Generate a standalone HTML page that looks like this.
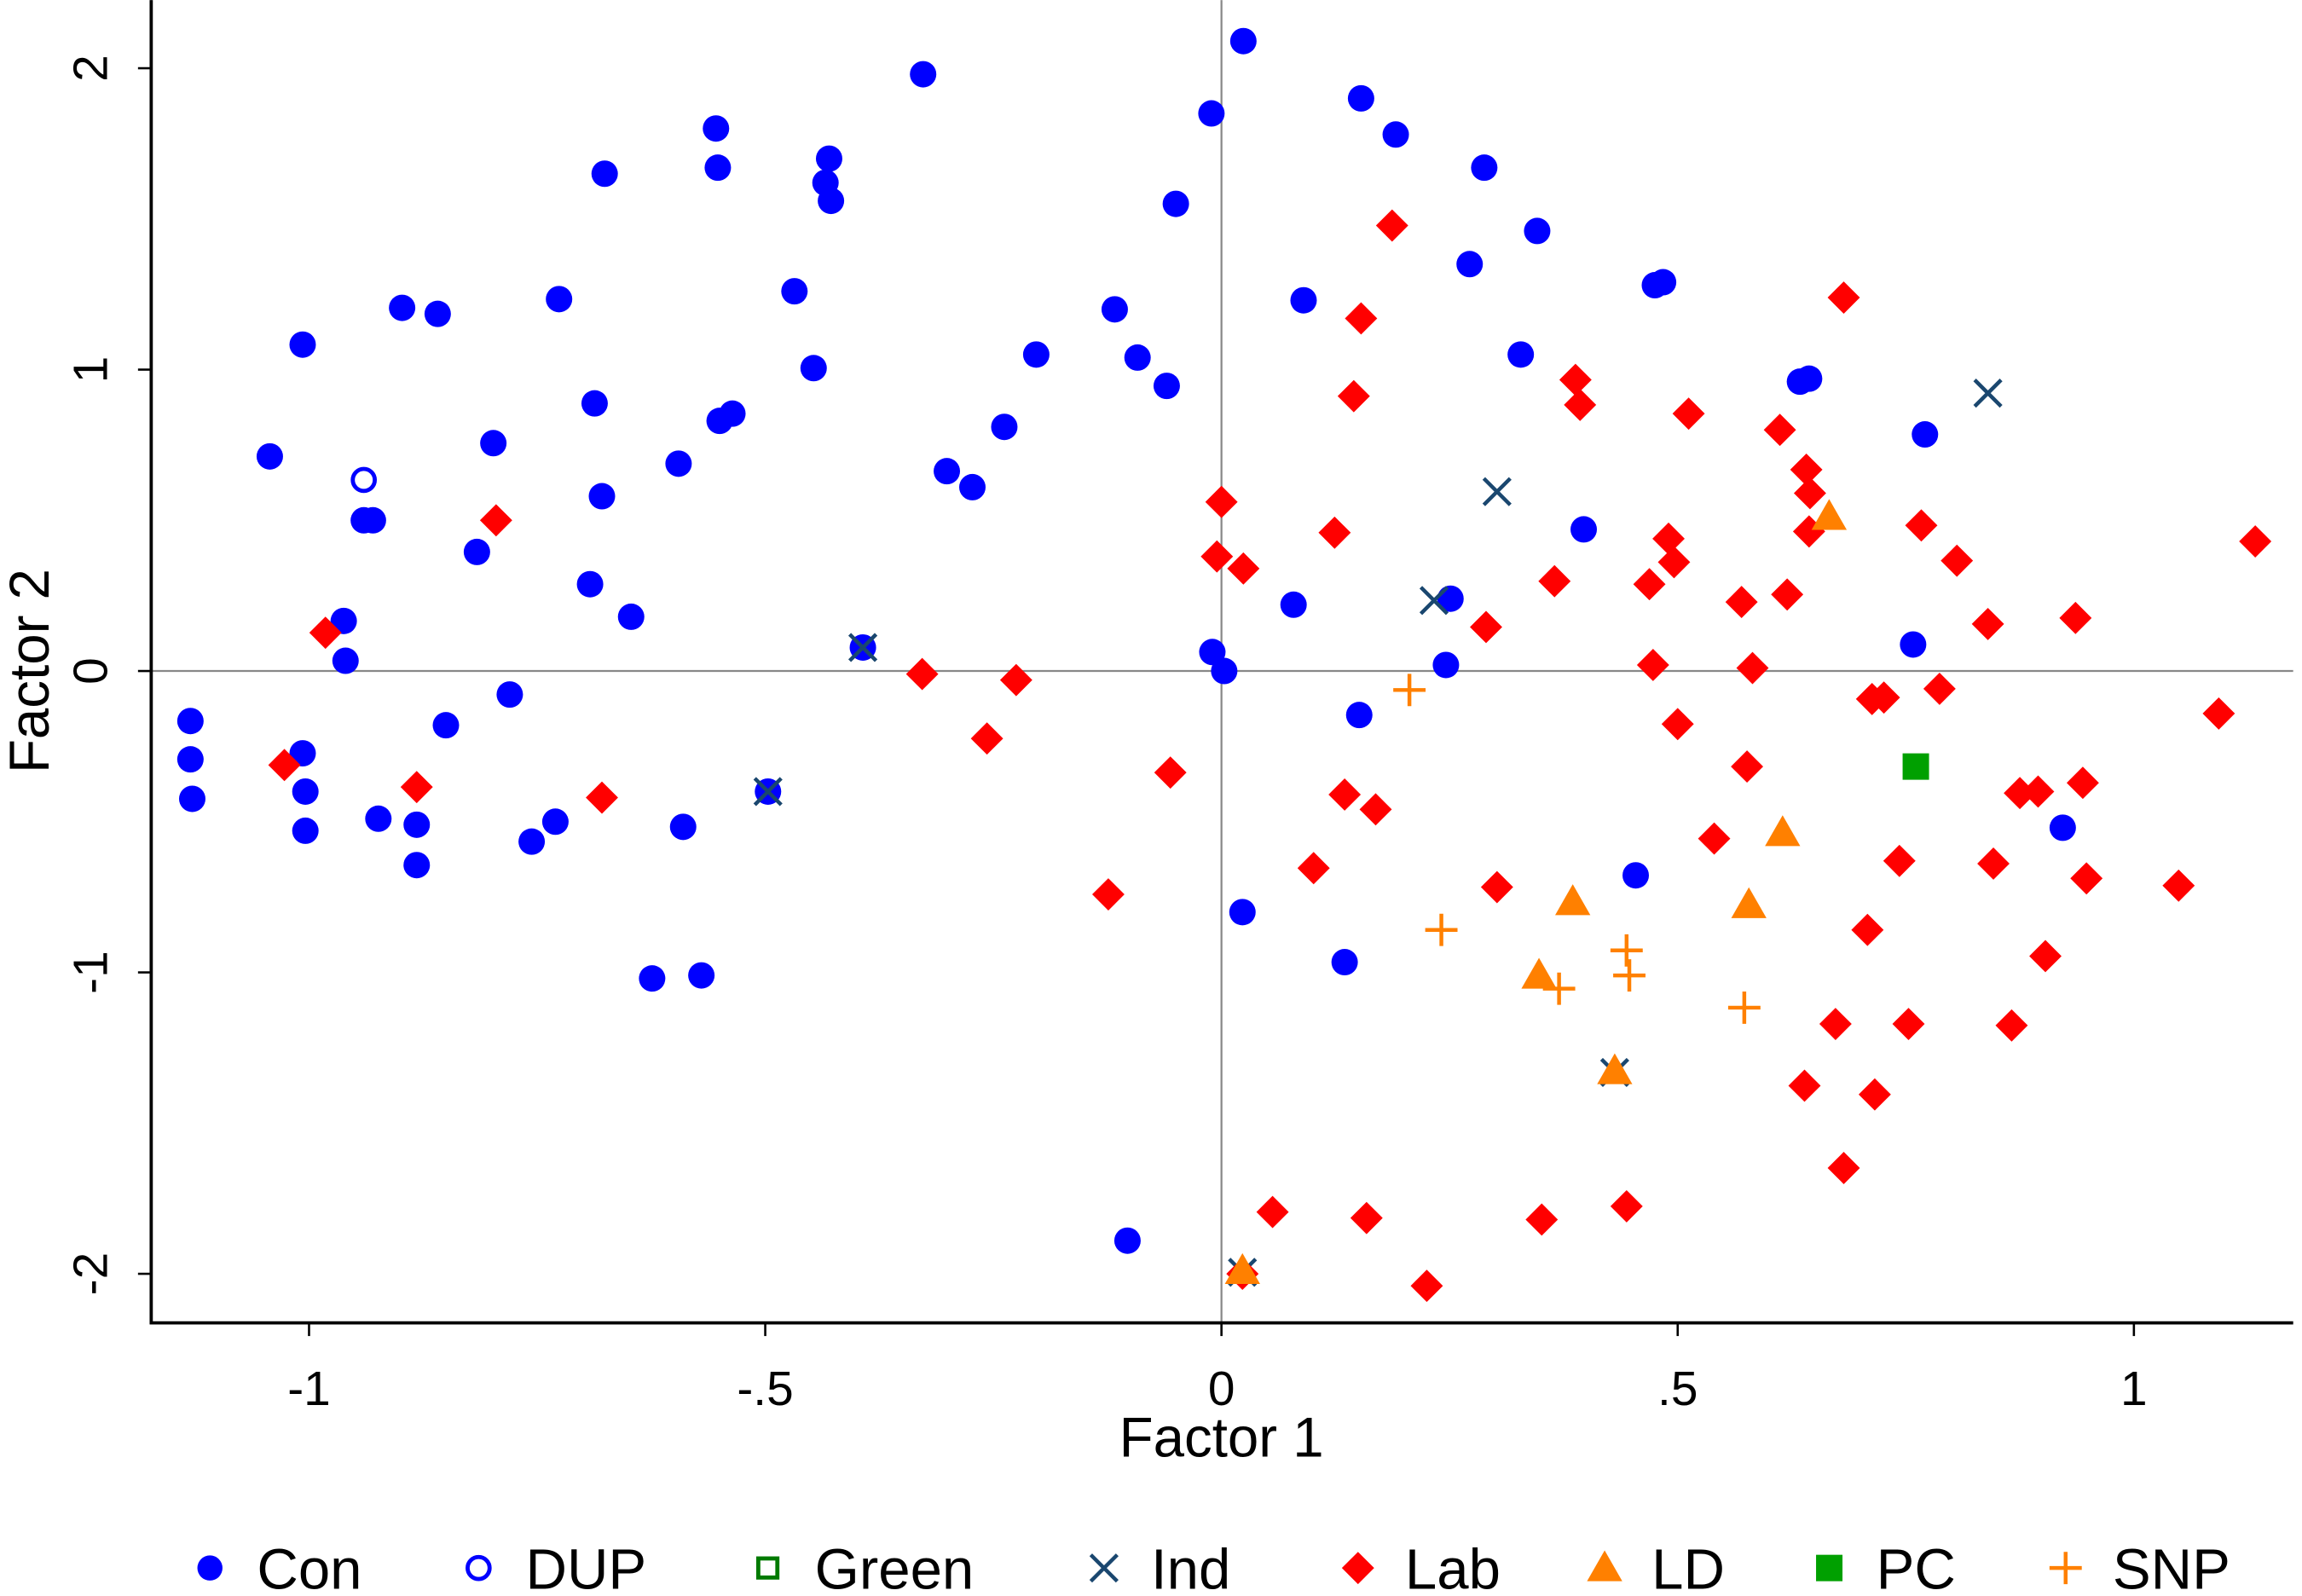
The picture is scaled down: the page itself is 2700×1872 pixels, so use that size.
<!DOCTYPE html>
<html><head><meta charset="utf-8"><style>
html,body{margin:0;padding:0;background:#fff;}
svg{display:block;font-family:"Liberation Sans",Arial,sans-serif;}
</style></head><body>
<svg id="chart" width="2700" height="1872" viewBox="0 0 1568 1087" xmlns="http://www.w3.org/2000/svg">
<rect width="1568" height="1087" fill="#fff"/>
<g id="axes"></g>
<g id="marks"></g>
<g id="legend"></g>
</svg>
<script>
const xTicks=[-1,-0.5,0,0.5,1];
const xTickLabels=["-1","-.5","0",".5","1"];
const yTicks=[-2,-1,0,1,2];
const yTickLabels=["-2","-1","0","1","2"];
const conX=[-0.327,0.024,0.153,0.191,-0.554,-0.552,-0.43,-0.434,-0.428,-0.676,-0.011,-0.05,0.288,0.346,0.272,0.475,0.484,0.09,0.328,0.634,0.644,0.771,0.397,0.079,0.251,0.246,0.758,-0.01,0.003,0.151,0.922,0.454,0.023,0.135,-0.103,-0.117,-0.092,-0.06,-0.203,-0.238,-0.301,-0.273,-0.468,-0.447,-0.55,-0.536,-0.595,-0.726,-0.859,-0.898,-1.007,-1.043,-0.798,-0.687,-0.679,-0.816,-0.692,-0.647,-0.94,-0.93,-0.962,-0.96,-0.78,-0.85,-1.13,-1.13,-1.128,-1.007,-1.004,-1.004,-0.924,-0.882,-0.882,-0.756,-0.73,-0.59,-0.624,-0.57,-0.393,-0.497];
const conY=[1.98,2.09,1.9,1.78,1.8,1.67,1.7,1.62,1.56,1.65,1.85,1.55,1.67,1.46,1.35,1.28,1.29,1.23,1.05,0.96,0.97,0.785,0.47,0.22,0.24,0.02,0.088,0.063,0.0,-0.146,-0.52,-0.678,-0.8,-0.966,-1.89,1.2,1.04,0.946,1.05,0.81,0.663,0.61,1.26,1.005,0.83,0.854,0.688,1.234,1.185,1.205,1.083,0.712,0.756,0.888,0.58,0.395,0.288,0.18,0.5,0.5,0.166,0.034,-0.078,-0.18,-0.166,-0.293,-0.424,-0.273,-0.4,-0.53,-0.49,-0.51,-0.644,-0.566,-0.5,-0.517,-1.02,-1.01,0.078,-0.4];
const dupX=[-0.94];
const dupY=[0.634];
const indX=[-0.393,-0.497,0.233,0.302,0.84,0.431,0.023];
const indY=[0.078,-0.4,0.234,0.595,0.922,-1.332,-1.995];
const labX=[0.187,0.682,0.153,0.145,0.388,0.393,0.512,0.612,0.641,0.645,0.644,0.0,0.124,0.49,0.496,0.767,0.806,-0.005,0.024,0.365,0.469,0.57,0.62,0.29,0.84,0.936,1.133,0.473,0.582,0.713,0.726,0.787,0.5,1.093,0.576,0.875,0.895,0.944,0.135,0.169,0.54,0.743,0.846,0.948,1.049,0.302,0.101,-0.056,-0.124,0.708,0.903,0.673,0.753,0.866,0.639,0.716,0.682,0.056,0.159,0.351,0.444,0.225,0.023,-0.328,-0.225,-0.257,-0.795,-0.982,-1.027,-0.882,-0.679];
const labY=[1.478,1.239,1.17,0.912,0.966,0.883,0.854,0.8,0.668,0.59,0.463,0.561,0.459,0.439,0.361,0.483,0.366,0.38,0.34,0.298,0.288,0.229,0.254,0.146,0.156,0.176,0.43,0.02,0.01,-0.093,-0.088,-0.059,-0.176,-0.141,-0.317,-0.405,-0.4,-0.371,-0.41,-0.459,-0.556,-0.63,-0.639,-0.688,-0.712,-0.717,-0.654,-0.337,-0.741,-0.859,-0.946,-1.171,-1.171,-1.176,-1.376,-1.405,-1.649,-1.795,-1.815,-1.82,-1.776,-2.04,-2.0,-0.01,-0.03,-0.224,0.5,0.127,-0.312,-0.385,-0.42];
const ldX=[0.666,0.615,0.578,0.385,0.348,0.431,0.023];
const ldY=[0.512,-0.537,-0.776,-0.766,-1.01,-1.327,-1.99];
const pcX=[0.761];
const pcY=[-0.317];
const snpX=[0.206,0.241,0.37,0.444,0.447,0.573];
const snpY=[-0.063,-0.859,-1.054,-0.927,-1.01,-1.117];

const NS="http://www.w3.org/2000/svg";
const X0=103,X1=1562,Y0=0,Y1=901;
function sx(v){return 832+v*621.5;}
function sy(v){return 457-v*205.3;}
function el(tag,attrs,parent,txt){const e=document.createElementNS(NS,tag);for(const k in attrs)e.setAttribute(k,attrs[k]);if(txt!==undefined)e.textContent=txt;parent.appendChild(e);return e;}
const axes=document.getElementById('axes');
const marks=document.getElementById('marks');
const legend=document.getElementById('legend');
let e;
e=el('line',{x1:sx(0),x2:sx(0),y1:Y0,y2:Y1,stroke:'#888','stroke-width':1.3},axes);

e=el('line',{x1:X0,x2:X1,y1:sy(0),y2:sy(0),stroke:'#888','stroke-width':1.3},axes);

e=el('line',{x1:X0,x2:X0,y1:Y0,y2:Y1+1,stroke:'#000','stroke-width':2.2},axes);

e=el('line',{x1:X0-1,x2:X1,y1:Y1,y2:Y1,stroke:'#000','stroke-width':2.2},axes);

xTicks.forEach((t,i)=>{
  e=el('line',{x1:sx(t),x2:sx(t),y1:Y1,y2:Y1+9,stroke:'#000','stroke-width':1.5},axes);
  
  e=el('text',{x:sx(t),y:Y1+56,'text-anchor':'middle','font-size':33},axes,xTickLabels[i]);
  
});
yTicks.forEach((t,i)=>{
  e=el('line',{x1:X0-9,x2:X0,y1:sy(t),y2:sy(t),stroke:'#000','stroke-width':1.5},axes);
  
  e=el('text',{x:0,y:0,'text-anchor':'middle','font-size':33,transform:`translate(73,${sy(t)}) rotate(-90)`},axes,yTickLabels[i]);
  
});
e=el('text',{x:sx(0),y:992,'text-anchor':'middle','font-size':38},axes,'Factor 1');

e=el('text',{x:0,y:0,'text-anchor':'middle','font-size':38,transform:`translate(33,${sy(0)}) rotate(-90)`},axes,'Factor 2');


const BLUE='#0000ff',RED='#ff0000',ORANGE='#ff8000',NAVY='#1a476f',GREEN='#00a000',DGREEN='#007a00';
function marker(type,cx,cy,p,s){
  s=s||1;
  if(type==='con')return el('circle',{cx:cx,cy:cy,r:9*s,fill:BLUE},p);
  if(type==='dup')return el('circle',{cx:cx,cy:cy,r:7.5*s,fill:'none',stroke:BLUE,'stroke-width':2.8},p);
  if(type==='green')return el('rect',{x:cx-6.5*s,y:cy-6.5*s,width:13*s,height:13*s,fill:'none',stroke:DGREEN,'stroke-width':2.8},p);
  if(type==='ind'){const d=9*s;return el('path',{d:`M${cx-d},${cy-d}L${cx+d},${cy+d}M${cx-d},${cy+d}L${cx+d},${cy-d}`,stroke:NAVY,'stroke-width':2.6,fill:'none'},p);}
  if(type==='lab'){const d=11*s;return el('path',{d:`M${cx},${cy-d}L${cx+d},${cy}L${cx},${cy+d}L${cx-d},${cy}Z`,fill:RED},p);}
  if(type==='ld'){const d=12*s;return el('path',{d:`M${cx},${cy-d}L${cx+d},${cy+d*0.75}L${cx-d},${cy+d*0.75}Z`,fill:ORANGE},p);}
  if(type==='pc')return el('rect',{x:cx-9*s,y:cy-9*s,width:18*s,height:18*s,fill:GREEN},p);
  if(type==='snp'){const d=11*s;return el('path',{d:`M${cx-d},${cy}L${cx+d},${cy}M${cx},${cy-d}L${cx},${cy+d}`,stroke:ORANGE,'stroke-width':2.6,fill:'none'},p);}
}
const series=[['con',conX,conY],['dup',dupX,dupY],['ind',indX,indY],['lab',labX,labY],['ld',ldX,ldY],['pc',pcX,pcY],['snp',snpX,snpY]];
series.forEach(([type,xs,ys])=>{
  xs.forEach((v,i)=>{
    const m=marker(type,sx(v),sy(ys[i]),marks);
    
    
  });
});
const legItems=[['con','Con',143],['dup','DUP',326],['green','Green',523],['ind','Ind',752],['lab','Lab',925],['ld','LD',1093],['pc','PC',1246],['snp','SNP',1407]];
legItems.forEach(([type,label,x])=>{
  const g=el('g',{},legend);
  
  
  const m=marker(type,x,1068,g,type==='con'?0.95:1);
  
  
  const t=el('text',{x:x+32,y:1082,'font-size':39},g,label);
  
  
});
</script>
</body></html>
